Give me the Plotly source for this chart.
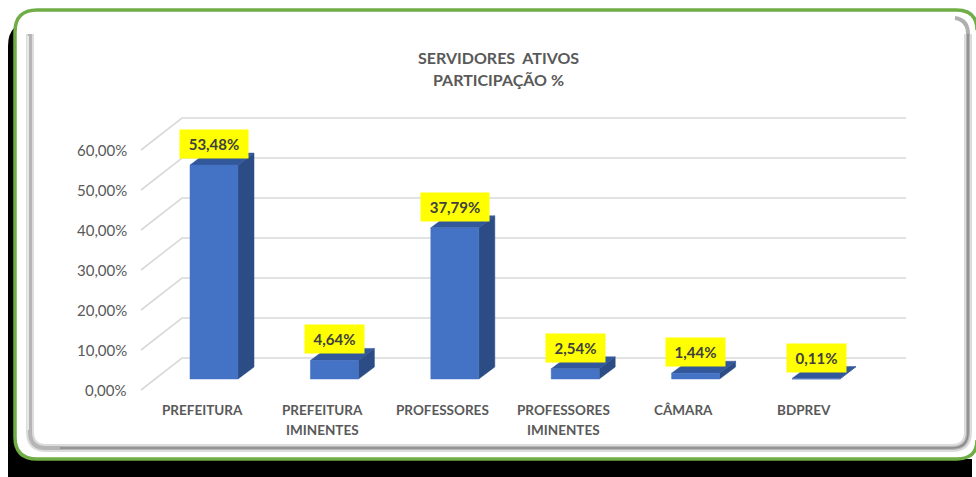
import plotly.graph_objects as go

# ---------------- data ----------------
categories = ["PREFEITURA", "PREFEITURA\nIMINENTES", "PROFESSORES",
              "PROFESSORES\nIMINENTES", "CÂMARA", "BDPREV"]
values = [53.48, 4.64, 37.79, 2.54, 1.44, 0.11]
value_labels = ["53,48%", "4,64%", "37,79%", "2,54%", "1,44%", "0,11%"]
tick_values = [0, 10, 20, 30, 40, 50, 60]
tick_labels = ["0,00%", "10,00%", "20,00%", "30,00%", "40,00%", "50,00%", "60,00%"]
title_lines = ["SERVIDORES  ATIVOS", "PARTICIPAÇÃO %"]

# ---------------- geometry (pixel based projection) ----------------
W, H = 976, 477
X0PX, XSTEP = 214.0, 120.4   # pixel of category 0 centre, pixels per category
Y0PX, YSTEP = 379.0, 4.0     # pixel of 0% on bar front plane, pixels per 1%

def ux(px):   # pixel offset -> x units
    return px / XSTEP

def uy(px):   # pixel offset -> y units
    return px / YSTEP

xrange_ = [(0 - X0PX) / XSTEP, (W - X0PX) / XSTEP]
yrange_ = [(Y0PX - H) / YSTEP, Y0PX / YSTEP]

half_w = ux(24)
bar_dx, bar_dy = ux(16), uy(12)
back_dx, back_dy = ux(27), uy(21)
front_dx, front_dy = ux(-14), uy(-11)
left_front_x = (141 - X0PX) / XSTEP
left_back_x = (182 - X0PX) / XSTEP
right_back_x = (906 - X0PX) / XSTEP

FONT = "Lato"

fig = go.Figure()

# gridlines (back wall + slanted side wall)
gx, gy = [], []
for t in tick_values:
    gx += [left_front_x, left_back_x, right_back_x, None]
    gy += [t + front_dy, t + back_dy, t + back_dy, None]
fig.add_trace(go.Scatter(x=gx, y=gy, mode="lines",
                         line=dict(color="#d9d9d9", width=1.6),
                         hoverinfo="skip", showlegend=False))

# 3D bars
fx, fy, sx, sy, tx, ty = [], [], [], [], [], []
for i, v in enumerate(values):
    c = i
    l, r = c - half_w, c + half_w
    fx += [l, r, r, l, l, None]
    fy += [0, 0, v, v, 0, None]
    sx += [r, r + bar_dx, r + bar_dx, r, r, None]
    sy += [0, bar_dy, v + bar_dy, v, 0, None]
    tx += [l, r, r + bar_dx, l + bar_dx, l, None]
    ty += [v, v, v + bar_dy, v + bar_dy, v, None]

for xs, ys, col in [(sx, sy, "#2B4C85"), (tx, ty, "#32579B"), (fx, fy, "#4472C4")]:
    fig.add_trace(go.Scatter(x=xs, y=ys, mode="lines", fill="toself",
                             fillcolor=col, line=dict(color=col, width=0.5),
                             hoverinfo="skip", showlegend=False))

annotations = []
# data labels
for i, (v, lab) in enumerate(zip(values, value_labels)):
    annotations.append(dict(x=i, y=v + uy(21), xref="x", yref="y", text="<b>%s</b>" % lab,
                            showarrow=False, bgcolor="#FFFF00", borderpad=3,
                            width=9 * len(lab) + 8, height=22, align="center",
                            font=dict(family=FONT, size=15, color="#404040")))
# tick labels
for t, lab in zip(tick_values, tick_labels):
    annotations.append(dict(x=(129 - X0PX) / XSTEP, y=t + front_dy, xref="x", yref="y",
                            text=lab, showarrow=False, xanchor="right",
                            font=dict(family=FONT, size=15, color="#595959")))
# category labels
for i, cat in enumerate(categories):
    for k, line in enumerate(cat.split("\n")):
        annotations.append(dict(x=i + ux(-12), y=uy(Y0PX - (410 + 20 * k)), xref="x", yref="y",
                                text="<b>%s</b>" % line, showarrow=False,
                                font=dict(family=FONT, size=13.5, color="#595959")))
# title
for k, line in enumerate(title_lines):
    annotations.append(dict(x=498 / W, y=1 - (46 + 22 * k) / H, xref="paper", yref="paper",
                            text="<b>%s</b>" % line, showarrow=False,
                            font=dict(family=FONT, size=16, color="#595959")))

# ---------------- frame decoration ----------------
def P(px, py):
    return "%.5f,%.5f" % (px / W, 1 - py / H)

def rrect(x0, y0, x1, y1, r):
    return ("M " + P(x0 + r, y0) + " L " + P(x1 - r, y0) + " Q " + P(x1, y0) + " " + P(x1, y0 + r) +
            " L " + P(x1, y1 - r) + " Q " + P(x1, y1) + " " + P(x1 - r, y1) +
            " L " + P(x0 + r, y1) + " Q " + P(x0, y1) + " " + P(x0, y1 - r) +
            " L " + P(x0, y0 + r) + " Q " + P(x0, y0) + " " + P(x0 + r, y0) + " Z")

green_path = ("M " + P(977, 30) + " Q " + P(977, 10) + " " + P(956, 10) +
              " L " + P(37, 10) + " Q " + P(15, 10) + " " + P(15, 32) +
              " L " + P(15, 437) + " Q " + P(15, 459) + " " + P(37, 459) +
              " L " + P(957, 459) + " Q " + P(977, 459) + " " + P(977, 440))

bevel_path = ("M " + P(968, 34) + " L " + P(968, 432) + " Q " + P(968, 448) + " " + P(952, 448) +
              " L " + P(46, 448) + " Q " + P(30, 448) + " " + P(30, 432) + " L " + P(30, 34))

shapes = [
    dict(type="path", xref="paper", yref="paper", path=rrect(8, 22, 972, 500, 24),
         fillcolor="#000000", line=dict(width=0), layer="below"),
    dict(type="path", xref="paper", yref="paper", path=rrect(15, 10, 995, 459, 22),
         fillcolor="#ffffff", line=dict(width=0), layer="below"),
    dict(type="path", xref="paper", yref="paper", path=green_path,
         line=dict(color="#70AD47", width=3.5), layer="below"),
    # inner bevel
    dict(type="path", xref="paper", yref="paper", path=bevel_path,
         line=dict(color="#dcdcdc", width=8), layer="below"),
    dict(type="path", xref="paper", yref="paper", path=bevel_path,
         line=dict(color="#b5b5b5", width=4), layer="below"),
    dict(type="path", xref="paper", yref="paper",
         path="M " + P(968, 30) + " L " + P(968, 432) + " Q " + P(968, 448) + " " + P(952, 448) +
              " L " + P(60, 448),
         line=dict(color="#8a8a8a", width=1.6), layer="below"),
    dict(type="path", xref="paper", yref="paper",
         path="M " + P(955, 18) + " Q " + P(968, 20) + " " + P(968, 34),
         line=dict(color="#b0b0b0", width=4), layer="below"),
    dict(type="path", xref="paper", yref="paper",
         path="M " + P(28, 36) + " L " + P(28, 430),
         line=dict(color="#e8e8e8", width=2), layer="below"),
]

fig.update_layout(
    width=W, height=H, margin=dict(l=0, r=0, t=0, b=0),
    paper_bgcolor="#ffffff", plot_bgcolor="rgba(0,0,0,0)",
    xaxis=dict(range=xrange_, visible=False, fixedrange=True),
    yaxis=dict(range=yrange_, visible=False, fixedrange=True),
    annotations=annotations, shapes=shapes, showlegend=False,
)

fig.write_html("out.html", config={"displayModeBar": False},
               post_script="document.body.style.margin='0';document.body.style.overflow='hidden';")
